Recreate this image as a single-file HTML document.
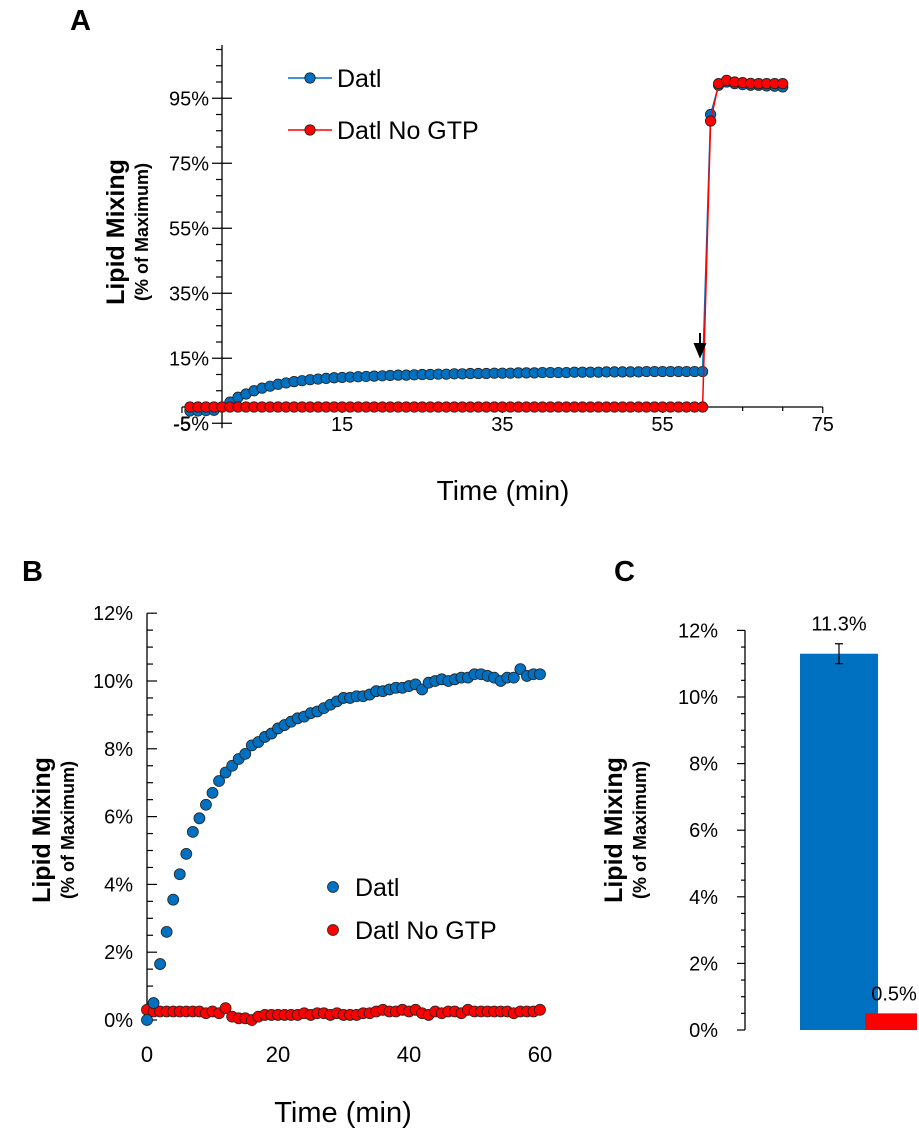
<!DOCTYPE html>
<html><head><meta charset="utf-8"><style>
body{margin:0;background:#fff;}
svg text{font-family:"Liberation Sans",Calibri,sans-serif;fill:#000;}
</style></head><body>
<svg id="s" width="919" height="1139" viewBox="0 0 919 1139" xmlns="http://www.w3.org/2000/svg">
<text x="70" y="30" font-size="29" font-weight="bold">A</text>
<text x="22" y="581" font-size="29" font-weight="bold">B</text>
<text x="614" y="581" font-size="29" font-weight="bold">C</text>
<g id="gA"></g>
<g id="gB"></g>
<g id="gC"></g>
</svg>
<script>
// Panel A data (step 1 min starting -4)
const aStart = -4;
const aBlue = [-1.2,-1.2,-1.1,-1,0,1.5,3,4,5,5.8,6.4,7,7.4,7.8,8.1,8.4,8.6,8.8,9,9.1,9.2,9.3,9.4,9.5,9.6,9.7,9.8,9.8,9.9,10,10,10.1,10.1,10.2,10.2,10.3,10.3,10.3,10.4,10.4,10.4,10.5,10.5,10.5,10.6,10.6,10.6,10.6,10.7,10.7,10.7,10.7,10.8,10.8,10.8,10.8,10.8,10.9,10.9,10.9,10.9,10.9,10.9,10.9,10.9,90,99,100,99.5,99.2,99,99,98.8,98.7,98.5];
const aRed = [0,0,0,0,0,0,0,0,0,0,0,0,0,0,0,0,0,0,0,0,0,0,0,0,0,0,0,0,0,0,0,0,0,0,0,0,0,0,0,0,0,0,0,0,0,0,0,0,0,0,0,0,0,0,0,0,0,0,0,0,0,0,0,0,0,88,99.5,100.5,100,99.8,99.6,99.5,99.5,99.5,99.5];
const aYTicks = ["-5%","15%","35%","55%","75%","95%"];
const aXTicks = [-5,15,35,55,75];
// Panel B data (step 1 min from 0)
const bBlue = [0,0.5,1.65,2.6,3.55,4.3,4.9,5.55,5.95,6.35,6.7,7.05,7.3,7.5,7.7,7.85,8.1,8.2,8.35,8.45,8.6,8.7,8.8,8.9,8.95,9.05,9.1,9.2,9.3,9.4,9.5,9.5,9.55,9.55,9.6,9.7,9.7,9.75,9.8,9.8,9.85,9.9,9.75,9.95,10.0,10.05,10.0,10.05,10.1,10.1,10.2,10.2,10.15,10.1,10.0,10.1,10.1,10.35,10.15,10.2,10.2];
const bRed = [0.3,0.25,0.25,0.25,0.25,0.25,0.25,0.25,0.25,0.2,0.25,0.2,0.35,0.1,0.05,0.05,0.0,0.1,0.15,0.15,0.15,0.15,0.15,0.15,0.2,0.15,0.2,0.2,0.15,0.2,0.15,0.15,0.15,0.2,0.2,0.25,0.3,0.25,0.25,0.3,0.25,0.3,0.2,0.15,0.25,0.2,0.25,0.25,0.2,0.3,0.25,0.25,0.25,0.25,0.25,0.25,0.2,0.25,0.25,0.25,0.3];
const bYTicks = ["0%","2%","4%","6%","8%","10%","12%"];
const bXTicks = [0,20,40,60];
// Panel C data
const cNames = ["Datl","Datl No GTP"];
const cValues = [11.3,0.5];
const cErr = [0.3,0];
const cLabels = ["11.3%","0.5%"];
const cYTicks = ["0%","2%","4%","6%","8%","10%","12%"];

const NS="http://www.w3.org/2000/svg";
function mk(p,tag,at,txt){const e=document.createElementNS(NS,tag);for(const k in at)e.setAttribute(k,at[k]);if(txt!==undefined)e.textContent=txt;p.appendChild(e);return e;}

// ---- Panel A ----
(function(){
const g=document.getElementById('gA');
const X=t=>222+(t-0)*8.01, Y=v=>407-v*3.25;
let ax=mk(g,'line',{x1:222,y1:45,x2:222,y2:Y(-5)+5,stroke:'#000','stroke-width':1.3});

let xx=mk(g,'line',{x1:X(-5),y1:Y(0),x2:X(75),y2:Y(0),stroke:'#000','stroke-width':1.3});

for(let v=-5;v<=110;v+=5){const maj=((v+5)%20===0);mk(g,'line',{x1:maj?212:216,x2:maj?232:222,y1:Y(v),y2:Y(v),stroke:'#000','stroke-width':1.2});}
aYTicks.forEach(s=>{const v=parseFloat(s);const t=mk(g,'text',{x:209,y:Y(v)+7,'font-size':20,'text-anchor':'end'},s);});
for(let t=-5;t<=75;t+=5){mk(g,'line',{x1:X(t),x2:X(t),y1:Y(0),y2:Y(0)+((t+5)%20===0?6:4),stroke:'#000','stroke-width':1.2});}
aXTicks.forEach(v=>{const t=mk(g,'text',{x:X(v),y:431,'font-size':20,'text-anchor':'middle'},String(v));});
const yt=mk(g,'text',{x:0,y:0,'font-size':25,'font-weight':'bold','text-anchor':'middle',transform:'translate(124,232) rotate(-90)'},'Lipid Mixing');

const ys=mk(g,'text',{x:0,y:0,'font-size':18,'font-weight':'bold','text-anchor':'middle',transform:'translate(148,232) rotate(-90)'},'(% of Maximum)');

const xt=mk(g,'text',{x:503,y:500,'font-size':28,'text-anchor':'middle'},'Time (min)');

function series(arr,col,name){
 const pts=arr.map((v,i)=>X(aStart+i)+','+Y(v)).join(' ');
 const l=mk(g,'polyline',{points:pts,fill:'none',stroke:col,'stroke-width':1.5});
 
 arr.forEach((v,i)=>{const c=mk(g,'circle',{cx:X(aStart+i),cy:Y(v),r:5.2,fill:col,stroke:'#222','stroke-width':0.8});
 });
}
series(aBlue,'#0070c0','a-datl');
series(aRed,'#ff0000','a-datl-no-gtp');
const ar=mk(g,'path',{d:'M700 333 L700 348 M695 344 L700 356 L705 344 Z',stroke:'#000','stroke-width':2,fill:'#000'});

[['Datl','#0070c0',78],['Datl No GTP','#ff0000',130]].forEach(([n,c,y])=>{
 const le=mk(g,'g',{});
 mk(le,'line',{x1:288,x2:332,y1:y,y2:y,stroke:c,'stroke-width':1.5});
 mk(le,'circle',{cx:310,cy:y,r:5.2,fill:c,stroke:'#222','stroke-width':0.8});
 mk(le,'text',{x:337,y:y+9,'font-size':25},n);
});
})();

// ---- Panel B ----
(function(){
const g=document.getElementById('gB');
const X=t=>147+t*6.55, Y=v=>1020-v*33.9;
let ax=mk(g,'line',{x1:147,y1:Y(12),x2:147,y2:Y(0),stroke:'#000','stroke-width':1.3});

for(let v=0;v<=12.01;v+=0.5){const maj=Math.abs(v-Math.round(v/2)*2)<0.01;mk(g,'line',{x1:147,x2:maj?157:153,y1:Y(v),y2:Y(v),stroke:'#000','stroke-width':1.2});}
bYTicks.forEach(s=>{const v=parseFloat(s);const t=mk(g,'text',{x:133,y:Y(v)+7,'font-size':20,'text-anchor':'end'},s);});
bXTicks.forEach(v=>{const t=mk(g,'text',{x:X(v),y:1062,'font-size':22,'text-anchor':'middle'},String(v));});
const yt=mk(g,'text',{x:0,y:0,'font-size':25,'font-weight':'bold','text-anchor':'middle',transform:'translate(50,830) rotate(-90)'},'Lipid Mixing');

const ys=mk(g,'text',{x:0,y:0,'font-size':18,'font-weight':'bold','text-anchor':'middle',transform:'translate(74,830) rotate(-90)'},'(% of Maximum)');

const xt=mk(g,'text',{x:343,y:1122,'font-size':29,'text-anchor':'middle'},'Time (min)');

bRed.forEach((v,i)=>{const c=mk(g,'circle',{cx:X(i),cy:Y(v),r:5.5,fill:'#ff0000',stroke:'#222','stroke-width':0.8});
});
bBlue.forEach((v,i)=>{const c=mk(g,'circle',{cx:X(i),cy:Y(v),r:5.5,fill:'#0070c0',stroke:'#222','stroke-width':0.8});
});
[['Datl','#0070c0',887],['Datl No GTP','#ff0000',930]].forEach(([n,c,y])=>{
 const le=mk(g,'g',{});
 mk(le,'circle',{cx:333,cy:y,r:5.5,fill:c,stroke:'#222','stroke-width':0.8});
 mk(le,'text',{x:355,y:y+9,'font-size':25},n);
});
})();

// ---- Panel C ----
(function(){
const g=document.getElementById('gC');
const Y=v=>1030-v*33.3;
const bx=[800,865], bw=[78,52];
let ax=mk(g,'line',{x1:745,y1:Y(12),x2:745,y2:Y(0),stroke:'#000','stroke-width':1.3});

for(let v=0;v<=12.01;v+=0.5){const maj=Math.abs(v-Math.round(v/2)*2)<0.01;mk(g,'line',{x1:maj?737:741,x2:745,y1:Y(v),y2:Y(v),stroke:'#000','stroke-width':1.2});}
cYTicks.forEach(s=>{const v=parseFloat(s);const t=mk(g,'text',{x:718,y:Y(v)+7,'font-size':20,'text-anchor':'end'},s);});
const yt=mk(g,'text',{x:0,y:0,'font-size':25,'font-weight':'bold','text-anchor':'middle',transform:'translate(622,830) rotate(-90)'},'Lipid Mixing');

const ys=mk(g,'text',{x:0,y:0,'font-size':18,'font-weight':'bold','text-anchor':'middle',transform:'translate(646,830) rotate(-90)'},'(% of Maximum)');

const cols=['#0070c0','#ff0000'];
cValues.forEach((v,i)=>{
 const r=mk(g,'rect',{x:bx[i],y:Y(v),width:bw[i],height:Y(0)-Y(v),fill:cols[i]});
 
 const cx=bx[i]+39;
 if(cErr[i]>0){const e=mk(g,'path',{d:`M${cx} ${Y(v+cErr[i])} V${Y(v-cErr[i])} M${cx-4} ${Y(v+cErr[i])} H${cx+4} M${cx-4} ${Y(v-cErr[i])} H${cx+4}`,stroke:'#000','stroke-width':1.2,fill:'none'});
 }
 const t=mk(g,'text',{x:bx[i]+(i===0?39:29),y:Y(v+(cErr[i]||0))-13,'font-size':20,'text-anchor':'middle'},cLabels[i]);
 
});
})();
</script>
</body></html>
